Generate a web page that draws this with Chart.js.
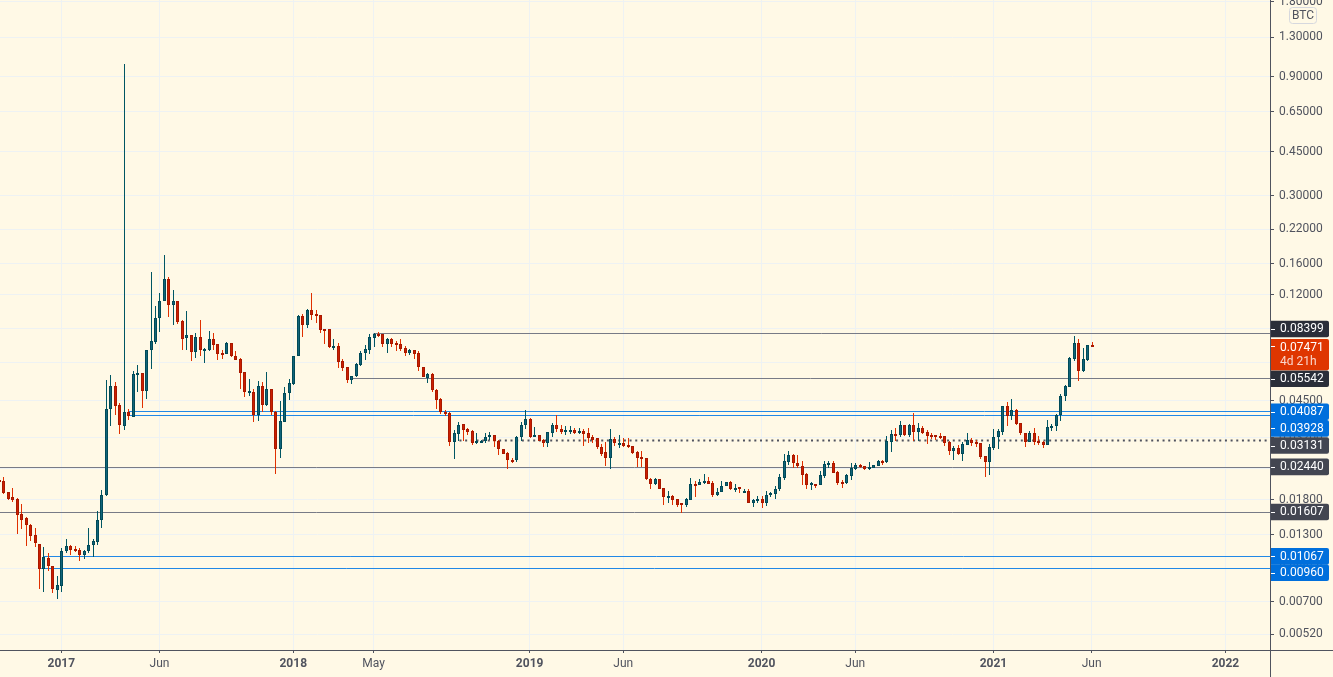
<!DOCTYPE html>
<html>
<head>
<meta charset="utf-8">
<title>BTC weekly</title>
<script src="https://cdn.jsdelivr.net/npm/chart.js@4/dist/chart.umd.min.js"></script>
<style>
  html, body { margin: 0; padding: 0; background: #fff9e6; overflow: hidden; }
  canvas { display: block; }
</style>
</head>
<body>
<canvas id="priceChart" width="1333" height="677"></canvas>
<script>
// weekly candles, index 0 is mid September 2016
var opens = [
  0.0217,0.0214,0.0193,0.0185,0.0181,0.0158,0.0152,0.0143,0.0130,0.0120,
  0.00947,0.0105,0.0098,0.00785,0.00810,0.0112,0.0117,0.0114,0.0113,0.0108,
  0.0112,0.0119,0.0122,0.0149,0.0188,0.0416,0.0515,0.0432,0.0356,0.0405,
  0.0388,0.0573,0.0581,0.0491,0.0718,0.0778,0.0963,0.1129,0.1384,0.1094,
  0.1129,0.0938,0.0805,0.0824,0.0708,0.0808,0.0722,0.0722,0.0795,0.0757,
  0.0698,0.0690,0.0764,0.0679,0.0660,0.0588,0.0486,0.0487,0.0393,0.0516,
  0.0433,0.0501,0.0404,0.0287,0.0370,0.0482,0.0527,0.0678,0.0983,0.0907,
  0.1039,0.1000,0.0992,0.0873,0.0871,0.0742,0.0745,0.0648,0.0614,0.0547,
  0.0563,0.0629,0.0698,0.0722,0.0807,0.0834,0.0832,0.0762,0.0795,0.0765,
  0.0758,0.0731,0.0702,0.0718,0.0698,0.0614,0.0556,0.0575,0.0496,0.0458,
  0.0405,0.0401,0.0308,0.0332,0.0362,0.0345,0.0339,0.0305,0.0308,0.0310,
  0.0322,0.0327,0.0311,0.0288,0.0277,0.0260,0.0259,0.0322,0.0358,0.0379,
  0.0323,0.0327,0.0312,0.0305,0.0335,0.0358,0.0347,0.0338,0.0340,0.0343,
  0.0334,0.0339,0.0333,0.0321,0.0318,0.0293,0.0280,0.0266,0.0315,0.0303,
  0.0305,0.0299,0.0295,0.0280,0.0268,0.0265,0.0219,0.0209,0.0219,0.0200,
  0.0184,0.0186,0.0181,0.0174,0.0172,0.0180,0.0208,0.0207,0.0213,0.0215,
  0.0210,0.0188,0.0193,0.0204,0.0213,0.0199,0.0202,0.0195,0.0196,0.0174,
  0.0178,0.0181,0.0175,0.0188,0.0190,0.0198,0.0221,0.0256,0.0273,0.0253,
  0.0246,0.0228,0.0207,0.0209,0.0207,0.0225,0.0249,0.0252,0.0232,0.0213,
  0.0211,0.0225,0.0240,0.0249,0.0246,0.0241,0.0242,0.0247,0.0258,0.0256,
  0.0308,0.0332,0.0329,0.0358,0.0329,0.0361,0.0337,0.0349,0.0337,0.0329,
  0.0328,0.0325,0.0324,0.0307,0.0283,0.0291,0.0276,0.0300,0.0313,0.0308,
  0.0304,0.0269,0.0256,0.0291,0.0321,0.0338,0.0428,0.0392,0.0413,0.0365,
  0.0334,0.0308,0.0334,0.0309,0.0307,0.0298,0.0352,0.0355,0.0393,0.0468,
  0.0513,0.0664,0.0765,0.0595,0.0658,0.0756
];
var highs = [
  0.0217,0.0222,0.0193,0.0201,0.0183,0.0173,0.0153,0.0144,0.0139,0.0120,
  0.0116,0.0110,0.0098,0.0089,0.0115,0.0125,0.0119,0.0117,0.0115,0.0113,
  0.0139,0.0125,0.0163,0.0197,0.0544,0.0570,0.0535,0.0440,1.0100,0.0418,
  0.0591,0.0625,0.0581,0.0718,0.1479,0.1080,0.1220,0.1733,0.1416,0.1253,
  0.1129,0.0947,0.1032,0.0824,0.0838,0.0947,0.0732,0.0858,0.0838,0.0757,
  0.0718,0.0772,0.0764,0.0711,0.0667,0.0588,0.0551,0.0502,0.0540,0.0534,
  0.0588,0.0501,0.0410,0.0449,0.0512,0.0551,0.0680,0.0995,0.1000,0.1052,
  0.1217,0.1039,0.0992,0.0876,0.0876,0.0800,0.0768,0.0660,0.0614,0.0565,
  0.0637,0.0713,0.0751,0.0834,0.0840,0.0850,0.0832,0.0803,0.0803,0.0782,
  0.0795,0.0747,0.0729,0.0720,0.0713,0.0614,0.0584,0.0581,0.0500,0.0461,
  0.0414,0.0404,0.0343,0.0369,0.0362,0.0351,0.0342,0.0334,0.0313,0.0334,
  0.0336,0.0328,0.0313,0.0289,0.0279,0.0265,0.0326,0.0371,0.0412,0.0383,
  0.0353,0.0328,0.0315,0.0336,0.0365,0.0395,0.0361,0.0356,0.0356,0.0349,
  0.0349,0.0346,0.0349,0.0328,0.0320,0.0301,0.0308,0.0346,0.0323,0.0328,
  0.0319,0.0319,0.0296,0.0282,0.0282,0.0265,0.0221,0.0221,0.0219,0.0200,
  0.0195,0.0188,0.0181,0.0174,0.0183,0.0221,0.0214,0.0218,0.0229,0.0222,
  0.0215,0.0201,0.0214,0.0213,0.0215,0.0208,0.0202,0.0198,0.0198,0.0181,
  0.0186,0.0186,0.0196,0.0194,0.0205,0.0229,0.0275,0.0282,0.0275,0.0273,
  0.0257,0.0230,0.0212,0.0209,0.0235,0.0258,0.0258,0.0258,0.0234,0.0217,
  0.0228,0.0253,0.0253,0.0251,0.0246,0.0256,0.0248,0.0260,0.0261,0.0325,
  0.0343,0.0349,0.0373,0.0361,0.0363,0.0403,0.0365,0.0356,0.0343,0.0334,
  0.0328,0.0334,0.0326,0.0309,0.0296,0.0299,0.0307,0.0334,0.0319,0.0313,
  0.0304,0.0269,0.0301,0.0348,0.0345,0.0428,0.0445,0.0458,0.0417,0.0365,
  0.0334,0.0339,0.0350,0.0324,0.0310,0.0377,0.0362,0.0397,0.0478,0.0521,
  0.0674,0.0819,0.0795,0.0731,0.0752,0.0775
];
var lows = [
  0.0213,0.0190,0.0179,0.0177,0.0131,0.0138,0.01175,0.0123,0.0116,0.0079,
  0.0077,0.00932,0.0076,0.0072,0.00765,0.0110,0.0108,0.0111,0.0102,0.0104,
  0.0110,0.0106,0.0119,0.0139,0.0187,0.0356,0.0396,0.0332,0.0343,0.0377,
  0.0388,0.0489,0.0419,0.0459,0.0601,0.0757,0.0853,0.1129,0.0977,0.0904,
  0.0918,0.0722,0.0722,0.0652,0.0670,0.0683,0.0640,0.0713,0.0722,0.0658,
  0.0664,0.0690,0.0677,0.0658,0.0503,0.0464,0.0468,0.0371,0.0374,0.0405,
  0.0430,0.0395,0.0228,0.0266,0.0368,0.0455,0.0522,0.0678,0.0814,0.0878,
  0.0953,0.0927,0.0845,0.0763,0.0734,0.0722,0.0610,0.0595,0.0530,0.0526,
  0.0561,0.0618,0.0658,0.0693,0.0738,0.0813,0.0740,0.0702,0.0740,0.0713,
  0.0715,0.0681,0.0687,0.0662,0.0593,0.0558,0.0532,0.0490,0.0415,0.0399,
  0.0392,0.0296,0.0262,0.0310,0.0310,0.0328,0.0300,0.0302,0.0304,0.0303,
  0.0313,0.0294,0.0273,0.0275,0.0240,0.0253,0.0256,0.0309,0.0347,0.0320,
  0.0323,0.0310,0.0294,0.0294,0.0323,0.0338,0.0332,0.0328,0.0330,0.0332,
  0.0331,0.0297,0.0305,0.0305,0.0287,0.0271,0.0246,0.0240,0.0297,0.0291,
  0.0292,0.0291,0.0276,0.0244,0.0244,0.0216,0.0198,0.0207,0.0198,0.0172,
  0.0174,0.0172,0.0169,0.0159,0.0169,0.0180,0.0185,0.0206,0.0208,0.0208,
  0.0185,0.0186,0.0193,0.0204,0.0197,0.0193,0.0192,0.0191,0.0174,0.0168,
  0.0175,0.0167,0.0170,0.0185,0.0181,0.0196,0.0216,0.0249,0.0242,0.0242,
  0.0206,0.0199,0.0197,0.0201,0.0206,0.0221,0.0242,0.0230,0.0206,0.0201,
  0.0209,0.0217,0.0237,0.0241,0.0237,0.0237,0.0242,0.0247,0.0248,0.0252,
  0.0281,0.0309,0.0322,0.0326,0.0323,0.0309,0.0309,0.0330,0.0301,0.0315,
  0.0312,0.0315,0.0296,0.0273,0.0260,0.0273,0.0258,0.0298,0.0296,0.0293,
  0.0263,0.0222,0.0227,0.0284,0.0289,0.0329,0.0356,0.0377,0.0361,0.0328,
  0.0294,0.0307,0.0300,0.0300,0.0291,0.0298,0.0340,0.0340,0.0374,0.0450,
  0.0510,0.0652,0.0540,0.0589,0.0652,0.0745
];
var closes = [
  0.0213,0.0192,0.0182,0.0180,0.0157,0.0150,0.0142,0.0129,0.0121,0.00947,
  0.0106,0.00976,0.00792,0.00818,0.0112,0.0117,0.0113,0.0112,0.0108,0.0112,
  0.0119,0.0123,0.0149,0.0188,0.0417,0.0515,0.0427,0.0358,0.0405,0.0389,
  0.0575,0.0581,0.0491,0.0718,0.0780,0.0965,0.1129,0.1384,0.1094,0.1129,
  0.0935,0.0800,0.0824,0.0708,0.0808,0.0722,0.0727,0.0795,0.0754,0.0696,
  0.0690,0.0764,0.0681,0.0658,0.0584,0.0486,0.0492,0.0393,0.0516,0.0434,
  0.0501,0.0406,0.0287,0.0372,0.0483,0.0528,0.0680,0.0986,0.0907,0.1039,
  0.0998,0.0989,0.0869,0.0869,0.0742,0.0747,0.0646,0.0610,0.0547,0.0565,
  0.0631,0.0701,0.0725,0.0810,0.0833,0.0829,0.0762,0.0795,0.0762,0.0753,
  0.0729,0.0702,0.0720,0.0696,0.0612,0.0558,0.0575,0.0495,0.0455,0.0404,
  0.0399,0.0308,0.0334,0.0358,0.0344,0.0337,0.0305,0.0309,0.0311,0.0323,
  0.0328,0.0310,0.0287,0.0276,0.0259,0.0258,0.0323,0.0359,0.0379,0.0322,
  0.0327,0.0310,0.0305,0.0336,0.0358,0.0346,0.0337,0.0342,0.0342,0.0334,
  0.0339,0.0332,0.0320,0.0313,0.0292,0.0276,0.0266,0.0315,0.0303,0.0305,
  0.0297,0.0294,0.0278,0.0266,0.0264,0.0218,0.0209,0.0219,0.0199,0.0184,
  0.0186,0.0180,0.0172,0.0172,0.0181,0.0208,0.0206,0.0213,0.0215,0.0209,
  0.0188,0.0194,0.0205,0.0213,0.0199,0.0201,0.0198,0.0196,0.0174,0.0179,
  0.0181,0.0175,0.0189,0.0192,0.0198,0.0222,0.0257,0.0272,0.0252,0.0245,
  0.0227,0.0207,0.0210,0.0206,0.0226,0.0250,0.0253,0.0231,0.0211,0.0211,
  0.0226,0.0241,0.0248,0.0244,0.0240,0.0244,0.0248,0.0258,0.0253,0.0309,
  0.0332,0.0328,0.0358,0.0329,0.0361,0.0337,0.0349,0.0334,0.0325,0.0327,
  0.0323,0.0323,0.0305,0.0283,0.0291,0.0275,0.0302,0.0313,0.0305,0.0302,
  0.0268,0.0256,0.0292,0.0323,0.0340,0.0428,0.0389,0.0413,0.0364,0.0333,
  0.0308,0.0334,0.0308,0.0305,0.0298,0.0352,0.0356,0.0394,0.0470,0.0515,
  0.0666,0.0765,0.0595,0.0660,0.0750,0.07471
];

// axes
var priceTicks = [1.8, 1.3, 0.9, 0.65, 0.45, 0.3, 0.22, 0.16, 0.12, 0.088, 0.064, 0.045, 0.032, 0.024, 0.018, 0.013, 0.0095, 0.007, 0.0052];
var weekTicks = [14, 36, 66, 84, 119, 140, 171, 192, 223, 245, 275];
var weekLabels = ['2017', 'Jun', '2018', 'May', '2019', 'Jun', '2020', 'Jun', '2021', 'Jun', '2022'];

// horizontal levels: price and the week they start from
var levelPrices = [0.08399, 0.05542, 0.04087, 0.03928, 0.03131, 0.02440, 0.01607, 0.01067, 0.00960];
var levelStarts = [84, 79, 29, 29, 102, 0, 0, 10, 9];
var levelColors = ['#787b86', '#787b86', '#2188e6', '#2188e6', '#50535e', '#787b86', '#787b86', '#2188e6', '#2188e6'];
var levelBoxes = ['#2a2e39', '#2a2e39', '#006fdc', '#006fdc', '#434651', '#434651', '#434651', '#006fdc', '#006fdc'];
var levelNudge = [-4.2, 0.5, 0.6, 13, 5.6, 0, 0, 0, 5];

var teal = '#11647a', tealEdge = '#004a58', tealWick = '#005663';
var red = '#cc1f00', redEdge = '#a81800', redWick = '#e03000';
var isUp = closes.map(function(c, i) { return c >= opens[i]; });

var wickData = highs.map(function(h, i) { return { x: i, y: [lows[i], h] }; });
var bodyData = opens.map(function(o, i) { return { x: i, y: [o, closes[i]] }; });

var levelDatasets = levelPrices.map(function(p, i) {
    return {
        type: 'line',
        data: [{ x: levelStarts[i], y: p }, { x: 285, y: p }],
        borderColor: levelColors[i],
        borderWidth: i === 4 ? 2 : 1,
        borderDash: i === 4 ? [2, 3.67] : [],
        pointRadius: 0,
        order: 3
    };
});

// snap candles and levels to whole pixels so they stay as crisp as the original
var snapPlugin = {
    id: 'snap',
    afterDatasetsUpdate: function(chart) {
        chart.data.datasets.forEach(function(ds, d) {
            chart.getDatasetMeta(d).data.forEach(function(el) {
                if (ds.type === 'line') {
                    el.y = Math.round(el.y) + 0.5;
                } else {
                    el.x = Math.round(el.x) + 0.5;
                    el.y = Math.round(el.y);
                    el.base = Math.round(el.base);
                    if (d === 1 && Math.abs(el.base - el.y) < 2) { el.base = el.y + 2; }
                }
            });
        });
    }
};

function priceBox(ctx, top, height, color, lines, tickY) {
    ctx.fillStyle = color;
    ctx.beginPath();
    ctx.roundRect(1271, top, 58, height, [0, 2, 2, 0]);
    ctx.fill();
    ctx.fillStyle = '#ffffff';
    ctx.fillRect(1271, Math.round(tickY), 4, 1);
    lines.forEach(function(line, i) {
        ctx.globalAlpha = i === 0 ? 1 : 0.8;
        ctx.fillText(line, 1280, top + 8.7 + i * 14);
    });
    ctx.globalAlpha = 1;
}

var labelPlugin = {
    id: 'labels',
    afterDraw: function(chart) {
        var ctx = chart.ctx, y = chart.scales.y;
        ctx.save();
        ctx.font = '12px Roboto';
        ctx.textBaseline = 'middle';
        ctx.textAlign = 'left';

        levelPrices.forEach(function(p, i) {
            var mid = y.getPixelForValue(p) + levelNudge[i];
            priceBox(ctx, mid - 8.3, 16.6, levelBoxes[i], [p.toFixed(5)], mid);
        });
        var last = closes[closes.length - 1];
        priceBox(ctx, y.getPixelForValue(last) - 7, 31.3, '#df3600', [last.toFixed(5), '4d 21h'], y.getPixelForValue(last));

        // axis lines run through to the corner and the page edge
        ctx.fillStyle = '#50535e';
        ctx.fillRect(1270, 0, 1, 677);
        ctx.fillRect(0, 650, 1333, 1);

        // currency badge
        ctx.beginPath();
        ctx.roundRect(1289.5, 7.5, 27, 16, 3);
        ctx.fillStyle = '#fff9e6';
        ctx.fill();
        ctx.strokeStyle = '#d6d8de';
        ctx.stroke();
        ctx.fillStyle = '#50535e';
        ctx.textAlign = 'center';
        ctx.fillText('BTC', 1303, 16);
        ctx.restore();
    }
};

new Chart(document.getElementById('priceChart'), {
    type: 'bar',
    data: {
        datasets: [
            {
                data: wickData,
                grouped: false,
                barThickness: 1,
                inflateAmount: 0,
                backgroundColor: isUp.map(function(u) { return u ? tealWick : redWick; }),
                order: 2
            },
            {
                data: bodyData,
                grouped: false,
                barThickness: 3,
                inflateAmount: 0,
                borderWidth: 1,
                borderSkipped: false,
                backgroundColor: isUp.map(function(u) { return u ? teal : red; }),
                borderColor: isUp.map(function(u) { return u ? tealEdge : redEdge; }),
                order: 1
            }
        ].concat(levelDatasets)
    },
    plugins: [snapPlugin, labelPlugin],
    options: {
        responsive: false,
        animation: false,
        layout: { padding: 0 },
        plugins: { legend: { display: false }, tooltip: { enabled: false } },
        scales: {
            x: {
                type: 'linear',
                min: 0.25,
                max: 285,
                offset: false,
                grid: { offset: false, color: '#eef2f3', tickLength: 3, tickColor: '#50535e' },
                border: { display: false },
                afterBuildTicks: function(scale) {
                    scale.ticks = weekTicks.map(function(w) { return { value: w }; });
                },
                afterFit: function(scale) {
                    scale.height = 27;
                    scale.paddingLeft = 0;
                    scale.paddingRight = 0;
                },
                ticks: {
                    autoSkip: false,
                    maxRotation: 0,
                    padding: 4,
                    color: '#50535e',
                    font: function(c) {
                        var isYear = c.index !== undefined && /^\d/.test(weekLabels[c.index] || '');
                        return { family: 'Roboto', size: 12, weight: isYear ? 'bold' : 'normal' };
                    },
                    callback: function(v, i) { return weekLabels[i]; }
                }
            },
            y: {
                type: 'logarithmic',
                position: 'right',
                min: 0.004488,
                max: 1.8305,
                grid: { color: '#eef2f3', tickLength: 4, tickColor: '#50535e' },
                border: { display: false },
                afterBuildTicks: function(scale) {
                    scale.ticks = priceTicks.map(function(p) { return { value: p }; });
                },
                afterFit: function(scale) {
                    scale.width = 63;
                    scale.paddingTop = 0;
                    scale.paddingBottom = 0;
                },
                ticks: {
                    autoSkip: false,
                    padding: 5,
                    color: '#50535e',
                    font: { family: 'Roboto', size: 12 },
                    callback: function(v) { return Number(v).toFixed(5); }
                }
            }
        }
    }
});
</script>
</body>
</html>
